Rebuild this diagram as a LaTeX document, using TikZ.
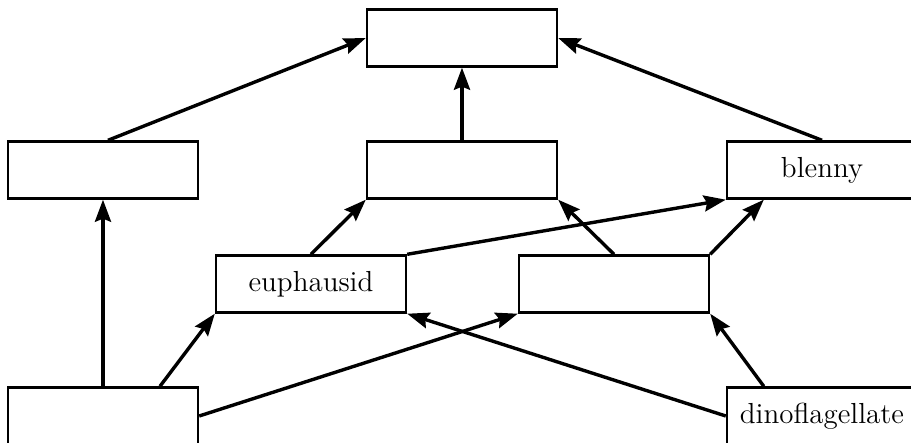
\documentclass[tikz,border=0pt]{standalone}
\usepackage{amsmath,amssymb}
\usepackage{tikz}
\usepackage{xcolor}
\usetikzlibrary{arrows.meta}

\begin{document}
\begin{tikzpicture}[->,>={Stealth[length=11pt,width=8pt,inset=1.5pt]},auto,
  every node/.style={draw,line width=1.2pt,minimum width=95pt,minimum height=28.5pt,font=\fontsize{14.5}{17}\selectfont},
  every edge/.style={draw,line width=1.7pt}]
  \useasboundingbox (-231pt,19pt) rectangle (224.5pt,-202.5pt);
  \clip (-231pt,19pt) rectangle (224.5pt,-202.5pt);

  \node (top) {};
  \node (mid) [below of=top, node distance=66pt] {};
  \node (left) [left of=mid, node distance=179.5pt] {};
  \node (blenny) [right of=mid, node distance=180pt] {blenny};
  \node (euphausid) [below of=mid, node distance=57pt, xshift=-75.5pt] {euphausid};
  \node (right) [right of=euphausid, node distance=151.5pt] {};
  \node (bottom) [below of=left, node distance=123pt] {};
  \node (dinoflagellate) [below of=blenny, node distance=123pt] {dinoflagellate};

  \path ([xshift=2.5pt]left.north) edge (top.west);
  \path (mid) edge (top);
  \path (blenny.north) edge (top.east);
  \path (bottom) edge (left);
  \path ([xshift=28.5pt]bottom.north) edge (euphausid.south west);
  \path (bottom.east) edge (right.south west);
  \path (dinoflagellate.west) edge (euphausid.south east);
  \path ([xshift=19pt]dinoflagellate.north west) edge (right.south east);
  \path (euphausid.north) edge (mid.south west);
  \path (euphausid.north east) edge (blenny.south west);
  \path (right.north) edge (mid.south east);
  \path (right.north east) edge ([xshift=19pt]blenny.south west);
\end{tikzpicture}
\end{document}
